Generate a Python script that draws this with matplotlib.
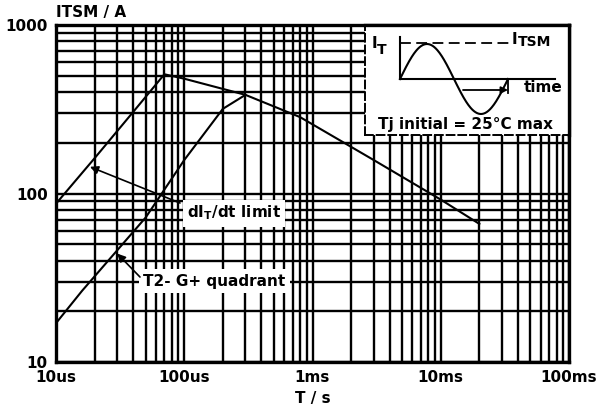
import numpy as np
import matplotlib
matplotlib.use("Agg")
import matplotlib.pyplot as plt
from matplotlib.ticker import LogLocator, FixedLocator, FixedFormatter, NullFormatter

plt.rcParams['font.family'] = ['DejaVu Sans']
plt.rcParams['font.weight'] = 'bold'
plt.rcParams['axes.labelweight'] = 'bold'

# dIT/dt limit curve (time in s, current in A)
t_dit = [10e-6, 20e-6, 40e-6, 70e-6, 100e-6, 300e-6, 800e-6, 3e-3, 10e-3, 20e-3]
i_dit = [87, 162, 305, 510, 480, 385, 284, 158, 92, 66]

# T2- G+ quadrant curve
t_quad = [10e-6, 16e-6, 50e-6, 100e-6, 200e-6, 300e-6]
i_quad = [17, 26.5, 72, 158, 318, 385]

x_ticks = [1e-5, 1e-4, 1e-3, 1e-2, 1e-1]
x_labels = ['10us', '100us', '1ms', '10ms', '100ms']
y_ticks = [10, 100, 1000]
y_labels = ['10', '100', '1000']

fig = plt.figure(figsize=(5.96, 4.05), dpi=100)
ax = fig.add_axes([56/596, 1-362/405, 513/596, 337/405])

ax.set_xscale('log')
ax.set_yscale('log')
ax.set_xlim(1e-5, 1e-1)
ax.set_ylim(10, 1000)

ax.xaxis.set_major_locator(FixedLocator(x_ticks))
ax.xaxis.set_major_formatter(FixedFormatter(x_labels))
ax.yaxis.set_major_locator(FixedLocator(y_ticks))
ax.yaxis.set_major_formatter(FixedFormatter(y_labels))
ax.xaxis.set_minor_locator(LogLocator(base=10, subs=np.arange(2, 10)))
ax.yaxis.set_minor_locator(LogLocator(base=10, subs=np.arange(2, 10)))
ax.xaxis.set_minor_formatter(NullFormatter())
ax.yaxis.set_minor_formatter(NullFormatter())
ax.tick_params(which='both', length=0, labelsize=11, pad=6)

ax.grid(which='both', color='black', lw=1.7)
for s in ax.spines.values():
    s.set_linewidth(2.4)

ax.plot(t_dit, i_dit, color='black', lw=1.5, zorder=4)
ax.plot(t_quad, i_quad, color='black', lw=1.5, zorder=4)

ax.text(0.0, 1.015, 'ITSM / A', transform=ax.transAxes, fontsize=11,
        ha='left', va='bottom')
ax.set_xlabel('T / s', fontsize=11, labelpad=4)

box = dict(facecolor='white', edgecolor='none', pad=3)
ax.text(0.255, 0.442, r'dI$_\mathregular{T}$/dt limit', transform=ax.transAxes,
        fontsize=11, ha='left', va='center', bbox=box, zorder=5)
ax.text(0.17, 0.24, 'T2- G+ quadrant', transform=ax.transAxes,
        fontsize=11, ha='left', va='center', bbox=box, zorder=5)

arr = dict(arrowstyle='-|>', color='black', lw=1.2, mutation_scale=12,
           shrinkA=0, shrinkB=0)
ax.annotate('', xy=(18.4e-6, 144), xytext=(0.2417, 0.4718),
            textcoords='axes fraction', arrowprops=arr, zorder=6)
ax.annotate('', xy=(30e-6, 44), xytext=(0.1637, 0.2522),
            textcoords='axes fraction', arrowprops=arr, zorder=6)

# inset sketch of the surge pulse, drawn in pixel-like units
ins = fig.add_axes([365/596, 1-135/405, 204/596, 110/405], zorder=5)
ins.set_xlim(365, 569)
ins.set_ylim(135, 25)
ins.set_xticks([])
ins.set_yticks([])
ins.set_facecolor('white')
for side in ['left', 'bottom']:
    ins.spines[side].set_linestyle((0, (4, 2)))
    ins.spines[side].set_linewidth(1.4)
for side in ['top', 'right']:
    ins.spines[side].set_linewidth(2.4)

xs = np.linspace(400, 508, 200)
ins.plot(xs, 79 - 35 * np.sin(2 * np.pi * (xs - 400) / 108), color='black', lw=1.5)
ins.plot([400, 400], [37, 79], color='black', lw=1.5)
ins.plot([400, 555], [79, 79], color='black', lw=1.5)
ins.plot([400, 510], [43, 43], color='black', lw=1.3, ls=(0, (6, 3)))
ins.plot([508, 508], [79, 93], color='black', lw=1.3)
ins.annotate('', xy=(508, 90), xytext=(463, 90),
             arrowprops=dict(arrowstyle='-|>', color='black', lw=1.3,
                             mutation_scale=10, shrinkA=0, shrinkB=0))
ins.text(372, 43, 'I', fontsize=11, ha='left', va='center')
ins.text(377, 50, 'T', fontsize=10, ha='left', va='center')
ins.text(512, 40, 'I', fontsize=11, ha='left', va='center')
ins.text(518, 42, 'TSM', fontsize=10, ha='left', va='center')
ins.text(562, 88, 'time', fontsize=11, ha='right', va='center')
ins.text(465, 125, 'Tj initial = 25°C max', fontsize=11, ha='center', va='center')

fig.savefig('out.png', dpi=100)
